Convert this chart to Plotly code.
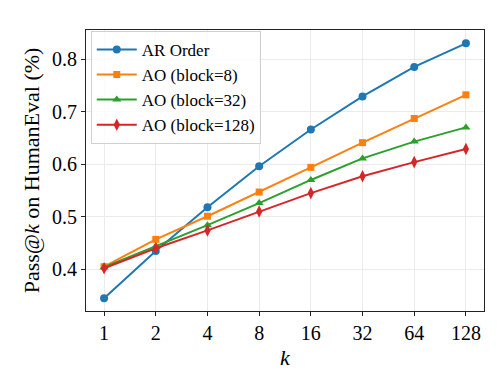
import plotly.graph_objects as go

k_labels = ["1", "2", "4", "8", "16", "32", "64", "128"]
ar_order = [0.345, 0.435, 0.518, 0.596, 0.666, 0.729, 0.785, 0.830]
ao_block8 = [0.405, 0.457, 0.501, 0.547, 0.594, 0.641, 0.687, 0.732]
ao_block32 = [0.404, 0.444, 0.484, 0.526, 0.570, 0.611, 0.643, 0.670]
ao_block128 = [0.402, 0.440, 0.474, 0.510, 0.545, 0.577, 0.604, 0.629]
y_ticks = [0.4, 0.5, 0.6, 0.7, 0.8]

series = [
    ("AR Order", ar_order, "#1f77b4", "circle", 8),
    ("AO (block=8)", ao_block8, "#ff7f0e", "square", 7),
    ("AO (block=32)", ao_block32, "#2ca02c", "triangle-up", 8),
    ("AO (block=128)", ao_block128, "#d62728", "diamond-tall", 9),
]

FONT = "Liberation Serif"

fig = go.Figure()
for name, vals, color, sym, size in series:
    fig.add_trace(go.Scatter(
        x=k_labels, y=vals, name=name, mode="lines+markers",
        line=dict(color=color, width=2),
        marker=dict(symbol=sym, size=size, color=color),
    ))

axis_common = dict(
    showline=True, mirror=True, linecolor="#222", linewidth=1.2,
    ticks="outside", ticklen=4, tickcolor="#222",
    showgrid=True, gridcolor="#ebebeb", gridwidth=1,
    zeroline=False, tickfont=dict(family=FONT, size=20, color="black"),
)

fig.update_layout(
    width=498, height=374,
    margin=dict(l=78, r=22, t=22, b=71),
    paper_bgcolor="white", plot_bgcolor="white",
    font=dict(family=FONT, color="black", size=17),
    xaxis=dict(type="category", range=[-0.35, 7.35],
               title=dict(text="<i>k</i>", font=dict(family=FONT, size=22), standoff=6),
               **axis_common),
    yaxis=dict(range=[0.3207, 0.8553], tickvals=y_ticks, tickformat=".1f",
               title=dict(text="Pass@<i>k</i> on HumanEval (%)", font=dict(family=FONT, size=22), standoff=6),
               **axis_common),
    legend=dict(x=0.012, y=0.997, xanchor="left", yanchor="top",
                bgcolor="rgba(255,255,255,0.8)", bordercolor="#d0d0d0", borderwidth=1,
                font=dict(family=FONT, size=17, color="black"), tracegroupgap=0,
                itemwidth=40),
    showlegend=True,
)

fig.write_html("out.html")
